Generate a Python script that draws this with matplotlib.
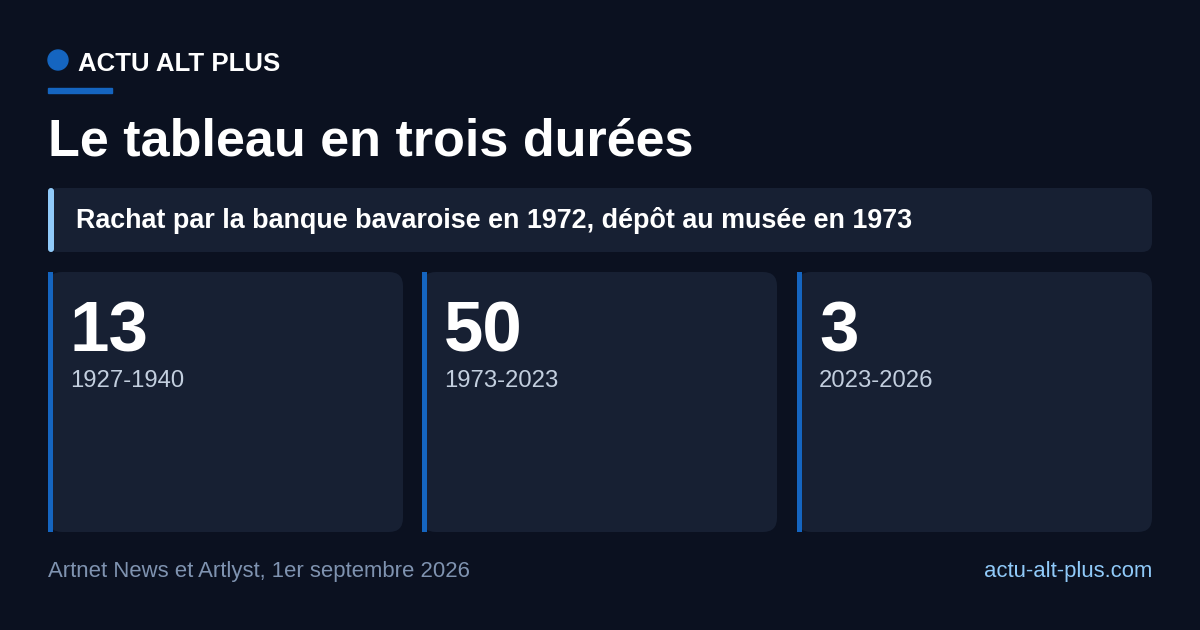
import matplotlib.pyplot as plt
from matplotlib.patches import FancyBboxPatch, Rectangle, Circle

plt.rcParams['font.family'] = ['Liberation Sans', 'DejaVu Sans']

BG = '#0b1120'
CARD = '#172033'
BLUE = '#1565c0'
LIGHT = '#90caf9'

brand = "ACTU ALT PLUS"
title = "Le tableau en trois durées"
subtitle = "Rachat par la banque bavaroise en 1972, dépôt au musée en 1973"
values = ["13", "50", "3"]
periods = ["1927-1940", "1973-2023", "2023-2026"]
source = "Artnet News et Artlyst, 1er septembre 2026"
site = "actu-alt-plus.com"

fig = plt.figure(figsize=(12, 6.3), dpi=100, facecolor=BG)
ax = fig.add_axes([0, 0, 1, 1])
ax.set_xlim(0, 1200)
ax.set_ylim(630, 0)
ax.axis('off')
ax.set_facecolor(BG)

# header
ax.add_patch(Circle((58, 60), 10, color=BLUE))
ax.text(78, 64, brand, color='white', fontsize=18.6, fontweight='bold', va='center')
ax.add_patch(Rectangle((48, 88), 64, 5, color=BLUE))
ax.text(48, 142, title, color='white', fontsize=37.5, fontweight='bold', va='center')

# subtitle box
ax.add_patch(FancyBboxPatch((48, 188), 1104, 64, boxstyle="round,pad=0,rounding_size=10",
                            color=CARD, lw=0))
ax.add_patch(FancyBboxPatch((48, 188), 6, 64, boxstyle="round,pad=0,rounding_size=3",
                            color=LIGHT, lw=0))
ax.text(76, 220, subtitle, color='white', fontsize=19.4, fontweight='bold', va='center')

# cards
card_x = [48, 422, 797]
card_w = 355
for x, v, p in zip(card_x, values, periods):
    ax.add_patch(FancyBboxPatch((x, 272), card_w, 260, boxstyle="round,pad=0,rounding_size=14",
                                color=CARD, lw=0))
    ax.add_patch(Rectangle((x, 272), 5, 260, color=BLUE, lw=0))
    ax.text(x + 22, 333, v, color='white', fontsize=51, fontweight='bold', va='center')
    ax.text(x + 22, 381, p, color='#c3cfdf', fontsize=17.2, va='center')

# footer
ax.text(48, 572, source, color='#7f93b0', fontsize=15.9, va='center')
ax.text(1152, 572, site, color=LIGHT, fontsize=15.9, va='center', ha='right')

fig.savefig('out.png', dpi=100, facecolor=BG)
